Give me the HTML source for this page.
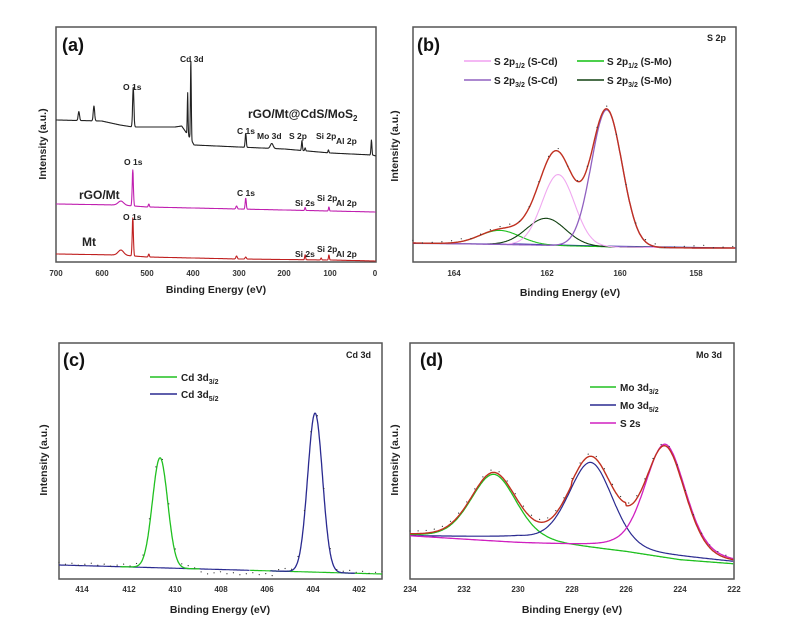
<!DOCTYPE html>
<html><head><meta charset="utf-8"><style>
html,body{margin:0;padding:0;background:#fff;}
svg{display:block;font-family:"Liberation Sans",Arial,sans-serif;}
.t{font-size:8px;font-weight:bold;fill:#333;}
.ax{font-size:10.5px;font-weight:bold;fill:#222;}
.lg{font-size:10px;font-weight:bold;fill:#222;}
.pl{font-size:18px;font-weight:bold;fill:#111;}
.an{font-size:8.5px;font-weight:bold;fill:#222;}
</style></head><body>
<svg id="s" width="791" height="629" viewBox="0 0 791 629" xmlns="http://www.w3.org/2000/svg">
<g fill="none" stroke="#555" stroke-width="1.5">
<rect x="56" y="27" width="320" height="235"/>
<rect x="413" y="27" width="323" height="235"/>
<rect x="59" y="343" width="323" height="236"/>
<rect x="410" y="343" width="324" height="236"/>
</g>
<g id="curves"></g>
<text class="pl" x="62" y="51">(a)</text>
<text class="an" x="180" y="62">Cd 3d</text>
<text class="an" x="123" y="90">O 1s</text>
<text x="248" y="118" style="font-size:12px;font-weight:bold;fill:#222">rGO/Mt@CdS/MoS<tspan dy="3" font-size="8">2</tspan></text>
<text class="an" x="237" y="134">C 1s</text>
<text class="an" x="257" y="139">Mo 3d</text>
<text class="an" x="289" y="139">S 2p</text>
<text class="an" x="316" y="139">Si 2p</text>
<text class="an" x="336" y="144">Al 2p</text>
<text class="an" x="124" y="165">O 1s</text>
<text x="79" y="199" style="font-size:12px;font-weight:bold;fill:#222">rGO/Mt</text>
<text class="an" x="237" y="196">C 1s</text>
<text class="an" x="295" y="206">Si 2s</text>
<text class="an" x="317" y="201">Si 2p</text>
<text class="an" x="336" y="206">Al 2p</text>
<text class="an" x="123" y="220">O 1s</text>
<text x="82" y="246" style="font-size:12px;font-weight:bold;fill:#222">Mt</text>
<text class="an" x="295" y="257">Si 2s</text>
<text class="an" x="317" y="252">Si 2p</text>
<text class="an" x="336" y="257">Al 2p</text>
<g class="t" text-anchor="middle">
<text x="56" y="276">700</text><text x="102" y="276">600</text><text x="147" y="276">500</text><text x="193" y="276">400</text><text x="239" y="276">300</text><text x="284" y="276">200</text><text x="330" y="276">100</text><text x="375" y="276">0</text>
</g>
<text class="ax" x="216" y="293" text-anchor="middle">Binding Energy (eV)</text>
<text class="ax" transform="translate(46,144) rotate(-90)" text-anchor="middle">Intensity (a.u.)</text>
<text class="pl" x="417" y="51">(b)</text>
<text class="an" x="707" y="41" style="font-size:9px">S 2p</text>
<line x1="464" y1="61" x2="491" y2="61" stroke="#f0a0f0" stroke-width="1.5"/>
<line x1="464" y1="80" x2="491" y2="80" stroke="#9060c0" stroke-width="1.5"/>
<line x1="577" y1="61" x2="604" y2="61" stroke="#10c010" stroke-width="1.5"/>
<line x1="577" y1="80" x2="604" y2="80" stroke="#104010" stroke-width="1.5"/>
<text class="lg" x="494" y="65">S 2p<tspan dy="3" font-size="7">1/2</tspan><tspan dy="-3"> (S-Cd)</tspan></text>
<text class="lg" x="494" y="84">S 2p<tspan dy="3" font-size="7">3/2</tspan><tspan dy="-3"> (S-Cd)</tspan></text>
<text class="lg" x="607" y="65">S 2p<tspan dy="3" font-size="7">1/2</tspan><tspan dy="-3"> (S-Mo)</tspan></text>
<text class="lg" x="607" y="84">S 2p<tspan dy="3" font-size="7">3/2</tspan><tspan dy="-3"> (S-Mo)</tspan></text>
<g class="t" text-anchor="middle">
<text x="454" y="276">164</text><text x="547" y="276">162</text><text x="620" y="276">160</text><text x="696" y="276">158</text>
</g>
<text class="ax" x="570" y="296" text-anchor="middle">Binding Energy (eV)</text>
<text class="ax" transform="translate(398,146) rotate(-90)" text-anchor="middle">Intensity (a.u.)</text>
<text class="pl" x="63" y="366">(c)</text>
<text class="an" x="346" y="358" style="font-size:9px">Cd 3d</text>
<line x1="150" y1="377" x2="177" y2="377" stroke="#20c020" stroke-width="1.5"/>
<line x1="150" y1="394" x2="177" y2="394" stroke="#2a2a90" stroke-width="1.5"/>
<text class="lg" x="181" y="381">Cd 3d<tspan dy="3" font-size="7">3/2</tspan></text>
<text class="lg" x="181" y="398">Cd 3d<tspan dy="3" font-size="7">5/2</tspan></text>
<g class="t" text-anchor="middle">
<text x="82" y="592">414</text><text x="129" y="592">412</text><text x="175" y="592">410</text><text x="221" y="592">408</text><text x="267" y="592">406</text><text x="313" y="592">404</text><text x="359" y="592">402</text>
</g>
<text class="ax" x="220" y="613" text-anchor="middle">Binding Energy (eV)</text>
<text class="ax" transform="translate(47,460) rotate(-90)" text-anchor="middle">Intensity (a.u.)</text>
<text class="pl" x="420" y="366">(d)</text>
<text class="an" x="696" y="358" style="font-size:9px">Mo 3d</text>
<line x1="590" y1="387" x2="616" y2="387" stroke="#20c020" stroke-width="1.5"/>
<line x1="590" y1="405" x2="616" y2="405" stroke="#2a2a90" stroke-width="1.5"/>
<line x1="590" y1="423" x2="616" y2="423" stroke="#d020c0" stroke-width="1.5"/>
<text class="lg" x="620" y="391">Mo 3d<tspan dy="3" font-size="7">3/2</tspan></text>
<text class="lg" x="620" y="409">Mo 3d<tspan dy="3" font-size="7">5/2</tspan></text>
<text class="lg" x="620" y="427">S 2s</text>
<g class="t" text-anchor="middle">
<text x="410" y="592">234</text><text x="464" y="592">232</text><text x="518" y="592">230</text><text x="572" y="592">228</text><text x="626" y="592">226</text><text x="680" y="592">224</text><text x="734" y="592">222</text>
</g>
<text class="ax" x="572" y="613" text-anchor="middle">Binding Energy (eV)</text>
<text class="ax" transform="translate(398,460) rotate(-90)" text-anchor="middle">Intensity (a.u.)</text>
</svg>
<script>
var G=document.getElementById('curves');
function g(x,c,s){return Math.exp(-0.5*(x-c)*(x-c)/(s*s));}
function pv(x,c,s){var w=s*1.1775;var L=1/(1+(x-c)*(x-c)/(w*w));return 0.75*g(x,c,s)+0.25*L;}
function path(pts,col,w){var d='M'+pts.map(function(p){return p[0].toFixed(1)+','+p[1].toFixed(1)}).join('L');
var e=document.createElementNS('http://www.w3.org/2000/svg','path');e.setAttribute('d',d);e.setAttribute('fill','none');e.setAttribute('stroke',col);e.setAttribute('stroke-width',w||1.3);e.setAttribute('stroke-linejoin','round');G.appendChild(e);}
function lin(x,xs,ys){for(var i=0;i<xs.length-1;i++){if(x>=xs[i]&&x<=xs[i+1]){var t=(x-xs[i])/(xs[i+1]-xs[i]);return ys[i]+t*(ys[i+1]-ys[i]);}}return x<xs[0]?ys[0]:ys[ys.length-1];}
function dots(pts,step){for(var i=0;i<pts.length;i+=step){var e=document.createElementNS('http://www.w3.org/2000/svg','circle');e.setAttribute('cx',pts[i][0]);e.setAttribute('cy',pts[i][1]-1.5+((i*7)%5-2)*0.6);e.setAttribute('r',0.6);e.setAttribute('fill','#333');G.appendChild(e);}}
function ax(E){return 56+(700-E)*320/700;}
(function(){
 function sv(bx,by,peaks,col){var p=[];for(var E=700;E>=0;E-=0.6){var y=lin(E,bx,by);for(var k=0;k<peaks.length;k++)y-=peaks[k][1]*g(E,peaks[k][0],peaks[k][2]);p.push([ax(E),y]);}path(p,col,1.1);}
 sv([0,8,100,200,300,398,404,425,440,532,560,600,700],[156,155,153,149,147,145,140,126,127,127,125,121,120],
   [[650,9,1.5],[617,15,1.5],[531,40,1.4],[412,42,0.8],[405,80,0.9],[285,14,1.2],[228,5,3],[162,10,1],[155,3,1],[104,3,1],[10,15,1]],'#222');
 sv([0,100,300,500,560,700],[212,211,209,207,205,204],
   [[532,36,1.3],[558,4,6],[497,3,1.2],[285,11,1.2],[305,3,1.5],[155,3,1],[103,4,1]],'#c020b0');
 sv([0,100,300,500,560,700],[261,260,259,257,255,254],
   [[532,38,1.3],[558,5,6],[497,3,1.2],[305,3,1.5],[285,2,1.5],[155,5,1],[103,5,1],[120,2,1]],'#c02020');
})();
(function(){
 function bx(E){return 736-(E-157)*40.4;}
 var P={pk:[161.4,71,0.4],pu:[160.2,137,0.38],dg:[161.7,27,0.48],gr:[162.85,14,0.5]};
 function bg(E){return lin(E,[157,158,160,162,165],[248,248,247,245,243]);}
 function cur(ks,col,w,dd){var p=[];for(var E=165;E>=157;E-=0.02){var y=bg(E);ks.forEach(function(k){var q=P[k];y-=q[1]*g(E,q[0],q[2]);});p.push([bx(E),y]);}path(p,col,w);if(dd)dots(p,12);}
 path([[413,243.5],[520,244],[600,246],[736,248]],'#2020a0',1);
 cur(['gr'],'#20c020',1.1);cur(['dg'],'#104010',1.1);cur(['pk'],'#f0a8f0',1.1);cur(['pu'],'#9060c0',1.3);
 cur(['gr','dg','pk','pu'],'#c03020',1.4,true);
})();
(function(){
 function cx(E){return 59+(415-E)*323/14;}
 function bg(E){return lin(E,[401,415],[574,565]);}
 var p1=[],p2=[],pb=[],pd=[];
 for(var E=415;E>=401;E-=0.02){var b=bg(E);pb.push([cx(E),b]);
  p1.push([cx(E),b-110*g(E,410.62,0.33)]);p2.push([cx(E),b-159*g(E,403.9,0.32)]);
  pd.push([cx(E),b-112*g(E,410.62,0.35)-161*g(E,403.9,0.33)+(E<409&&E>405.5?5:0)]);}
 path(pb.filter(function(q){return q[0]>250}),'#20c020',1.2);
 path(pb.filter(function(q){return q[0]<=250}),'#2a2a90',1.2);
 path(p1.filter(function(q){return q[0]>120&&q[0]<200}),'#20c020',1.3);
 path(p2.filter(function(q){return q[0]>270&&q[0]<355}),'#2a2a90',1.3);
 dots(pd,14);
})();
(function(){
 function dx(E){return 410+(234-E)*27;}
 function gb(E){return lin(E,[222,224,226,229,234],[564,560,552,543,536]);}
 function mb(E){return lin(E,[222,224,226.5,230,234],[562,555,547,543,536]);}
 function bb(E){return lin(E,[222,226,230,234],[562,552,538,536]);}
 var G1=[230.9,66,0.85],B1=[227.3,85,0.82],M1=[224.55,109,0.75];
 var pg=[],pb=[],pm=[],pt=[];
 for(var E=234;E>=222;E-=0.03){
  var a=pv(E,G1[0],G1[2])*G1[1],b=pv(E,B1[0],B1[2])*B1[1],c=pv(E,M1[0],M1[2])*M1[1];
  pg.push([dx(E),gb(E)-a]);pb.push([dx(E),bb(E)-b]);pm.push([dx(E),mb(E)-c]);
  pt.push([dx(E),gb(E)-a-b-c+(E<228&&E>226?-3:0)]);}
 path(pg,'#20c020',1.3);path(pb,'#2a2a90',1.2);path(pm,'#d020c0',1.3);path(pt,'#c03020',1.4);
 dots(pt,10);
})();
</script>
</body></html>
